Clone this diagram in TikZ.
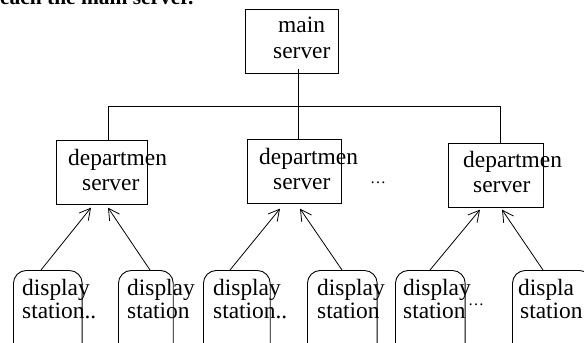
\documentclass[tikz,border=0pt]{standalone}
\usepackage{fontspec}
\setmainfont{Liberation Serif}
\usetikzlibrary{arrows.meta,calc}
\tikzset{
  box/.style={draw, line width=0.9pt, inner sep=0pt, anchor=north west},
  dbox/.style={draw, rounded corners=13pt, line width=0.9pt, inner sep=0pt, anchor=north west},
  txt/.style={anchor=base west, inner sep=0pt, font=\fontsize{23.5}{25}\selectfont},
  wire/.style={line width=0.9pt},
  feed/.style={line width=0.8pt, -{Straight Barb[length=11pt,width=12pt,line width=0.8pt]}},
}
\begin{document}
\begin{tikzpicture}[x=1bp,y=-1bp]
\useasboundingbox (0,0) rectangle (584,342);
\clip (0,0) rectangle (584,342);

% running text above the chart
\node[anchor=base west, inner sep=0pt, font=\fontsize{21.5}{24}\selectfont\bfseries] (head) at (0,4) {each the main server.};

% main server
\node[box, minimum width=93, minimum height=64] (main) at (245,9) {};
\node[txt] (mainA) at (278,32) {main};
\node[txt] (mainB) at (273,58) {server};

% department servers
\node[box, minimum width=91, minimum height=64] (d1) at (56,140) {};
\node[txt] (d1a) at (68,165) {departmen};
\node[txt] (d1b) at (82,190) {server};

\node[box, minimum width=94, minimum height=64] (d2) at (247,139) {};
\node[txt] (d2a) at (259,164) {departmen};
\node[txt] (d2b) at (273,189) {server};

\node[box, minimum width=95, minimum height=64] (d3) at (448,143) {};
\node[txt] (d3a) at (463,167) {departmen};
\node[txt] (d3b) at (473,192) {server};

\node[txt] (dots1) at (370,183) {\fontsize{16}{16}\selectfont\dots};

% display stations
\node[dbox, minimum width=69, minimum height=100] (b1) at (13,270) {};
\node[txt] (b1a) at (22,295) {display};
\node[txt] (b1b) at (22,318) {station..};

\node[dbox, minimum width=55, minimum height=100] (b2) at (118,270) {};
\node[txt] (b2a) at (127,295) {display};
\node[txt] (b2b) at (127,318) {station};

\node[dbox, minimum width=67, minimum height=100] (b3) at (203,270) {};
\node[txt] (b3a) at (213,295) {display};
\node[txt] (b3b) at (213,318) {station..};

\node[dbox, minimum width=70, minimum height=100] (b4) at (307,270) {};
\node[txt] (b4a) at (317,295) {display};
\node[txt] (b4b) at (317,318) {station};

\node[dbox, minimum width=70, minimum height=100] (b5) at (395,270) {};
\node[txt] (b5a) at (403,295) {display};
\node[txt] (b5b) at (403,318) {station};
\node[txt] (dots2) at (468,305) {\fontsize{16}{16}\selectfont\dots};

\node[dbox, minimum width=80, minimum height=100] (b6) at (512,270) {};
\node[txt] (b6a) at (518,295) {displa};
\node[txt] (b6b) at (520,318) {station};

% tree lines
\draw[wire] ($(main.south west)+(53,-5)$) -- ($(d2.north west)+(51,0)$);
\draw[wire] ($(d1.north west)+(52,0)$) -- ++(0,-34) -| ($(d3.north west)+(52,0)$);

% station arrows
\draw[feed] ($(b1.north west)+(28,0)$) -- ($(d1.south west)+(35,3)$);
\draw[feed] ($(b2.north west)+(32,0)$) -- ($(d1.south west)+(52,3)$);
\draw[feed] ($(b3.north west)+(27,0)$) -- ($(d2.south west)+(33,5)$);
\draw[feed] ($(b4.north west)+(35,0)$) -- ($(d2.south west)+(53,5)$);
\draw[feed] ($(b5.north west)+(35,0)$) -- ($(d3.south west)+(32,2)$);
\draw[feed] ($(b6.north west)+(31,0)$) -- ($(d3.south west)+(54,2)$);
\end{tikzpicture}
\end{document}
